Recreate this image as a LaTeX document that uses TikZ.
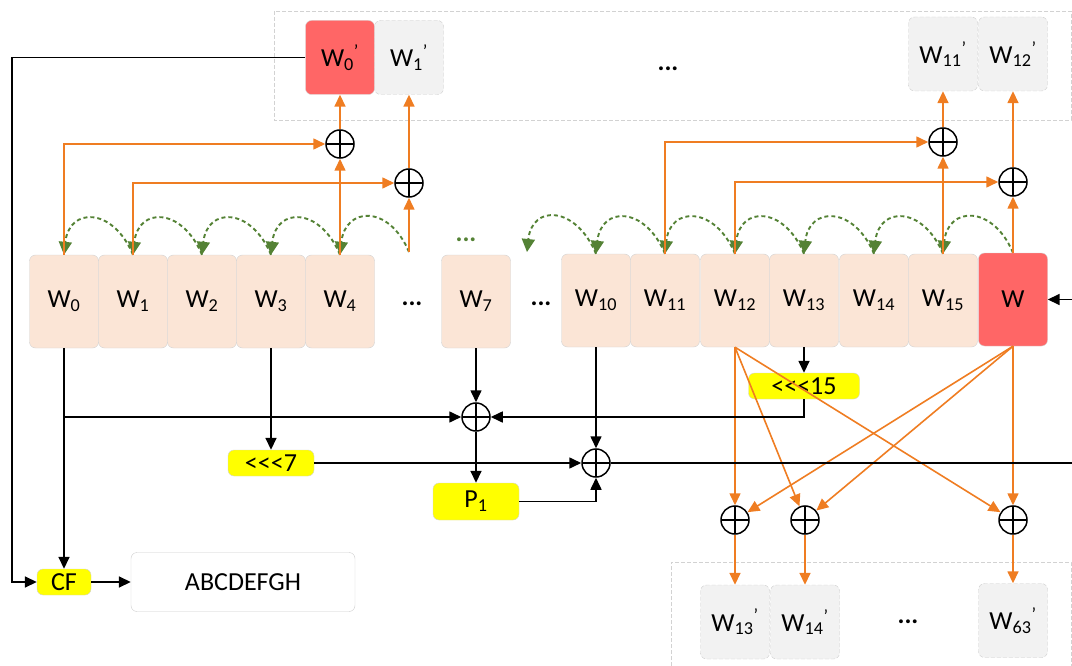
\documentclass[tikz,border=0pt]{standalone}
\usepackage{fontspec}
\setmainfont{Carlito}
\usetikzlibrary{arrows.meta}
\definecolor{regfill}{HTML}{FBE5D6}
\definecolor{hotred}{HTML}{FF6666}
\definecolor{outgray}{HTML}{F2F2F2}
\definecolor{xorange}{HTML}{EF7D22}
\definecolor{shiftgreen}{HTML}{548235}
\definecolor{opyellow}{HTML}{FFFF00}
\newcommand{\rotl}{\mbox{<}\mbox{<}\mbox{<}}
\begin{document}
\begin{tikzpicture}[x=1pt, y=-1pt, font=\fontsize{26}{30}\selectfont,
    reg/.style={draw=gray!35, fill=regfill, rounded corners=6pt, minimum width=69pt, minimum height=93pt, inner sep=0pt},
    regout/.style={draw=gray!40, dash pattern=on 4pt off 2pt, fill=outgray, rounded corners=6pt, minimum width=69pt, minimum height=74pt, inner sep=0pt},
    shiftbox/.style={draw=gray!35, fill=opyellow, rounded corners=6pt, minimum height=26pt, inner sep=0pt},
    xorop/.style={circle, draw, line width=1.5pt, minimum size=28pt, inner sep=0pt,
        path picture={\draw[line width=1.3pt] (path picture bounding box.north) -- (path picture bounding box.south)
            (path picture bounding box.west) -- (path picture bounding box.east);}},
    blk/.style={line width=1.6pt, -{Triangle[length=12pt,width=11pt]}},
    org/.style={xorange, line width=1.6pt, -{Triangle[length=12pt,width=11pt]}},
    shft/.style={shiftgreen, line width=1.9pt, dash pattern=on 4pt off 3pt, -{Triangle[length=13pt,width=13pt]}}]
    \useasboundingbox (0,0) rectangle (1072,666);

    % Output groups
    \draw[gray!35, dash pattern=on 4pt off 2pt] (274,11) rectangle (1071,120);
    \draw[gray!35, dash pattern=on 4pt off 2pt] (671,666) -- (671,562) -- (1071,562) -- (1071,666);
    \node[regout, fill=hotred, draw=gray!35, solid] (wo0) at (340,57.5) {W\textsubscript{0}\textsuperscript{’}};
    \node[regout] (wo1) at (409,57.5) {W\textsubscript{1}\textsuperscript{’}};
    \node (dotsT) at (668,69) {\textbf{...}};
    \node[regout] (wo11) at (943,54) {W\textsubscript{11}\textsuperscript{’}};
    \node[regout] (wo12) at (1013,54) {W\textsubscript{12}\textsuperscript{’}};
    \node[regout] (wo13) at (735,622) {W\textsubscript{13}\textsuperscript{’}};
    \node[regout] (wo14) at (805,622) {W\textsubscript{14}\textsuperscript{’}};
    \node (dotsB) at (908,622) {\textbf{...}};
    \node[regout] (wo63) at (1013,620.5) {W\textsubscript{63}\textsuperscript{’}};

    % Register row
    \foreach \n/\x in {0/64,1/133,2/202,3/271,4/340}
        \node[reg] (w\n) at (\x,301.5) {W\textsubscript{\n}};
    \node (dotsL) at (412,304) {\textbf{...}};
    \node[reg] (w7) at (476,301.5) {W\textsubscript{7}};
    \node (dotsM) at (541,304) {\textbf{...}};
    \foreach \n/\x in {10/596,11/665,12/735,13/804,14/874,15/943}
        \node[reg] (w\n) at (\x,300.5) {W\textsubscript{\n}};
    \node[reg, fill=hotred] (wn) at (1013,299.5) {W};
    \node[text=shiftgreen] (gdots) at (466,240) {\textbf{...}};
    \coordinate (w5stub) at (409,252);
    \coordinate (w9stub) at (527,252);
    \coordinate (inR) at (1072,299.5);
    \coordinate (outR) at (1072,463);

    % XOR nodes
    \node[xorop] (xa) at (340,144) {};
    \node[xorop] (xb) at (409,183) {};
    \node[xorop] (xg) at (943,142) {};
    \node[xorop] (xi) at (1013,182) {};
    \node[xorop] (xc) at (476,417) {};
    \node[xorop] (xd) at (596,463) {};
    \node[xorop] (xe) at (735,520) {};
    \node[xorop] (xf) at (805,520) {};
    \node[xorop] (xh) at (1013,520) {};

    % Rotations and compression
    \node[shiftbox, minimum width=111pt] (rot15) at (804,386) {\rotl15};
    \node[shiftbox, minimum width=86pt] (rot7) at (271,463) {\rotl7};
    \node[shiftbox, minimum width=86pt, minimum height=37pt] (p1) at (476,501.5) {P\textsubscript{1}};
    \node[shiftbox, minimum width=54pt] (cf) at (64,582) {CF};
    \node[draw=gray!40, rounded corners=6pt, minimum width=224pt, minimum height=59pt] (res) at (243,582) {ABCDEFGH};

    % Shift of the register
    \foreach \a/\b in {w1/w0,w2/w1,w3/w2,w4/w3,w5stub/w4,w10/w9stub,w11/w10,w12/w11,w13/w12,w14/w13,w15/w14,wn/w15}
        \draw[shft] (\a.north) .. controls +(-20,-48) and +(5,-48) .. (\b.north);

    % Orange XOR paths
    \draw[org] (w0.north) |- (xa.west);
    \draw[org] (w4.north) -- (xa.south);
    \draw[org] (xa.north) -- (wo0.south);
    \draw[org] (w1.north) |- (xb.west);
    \draw[org] (w5stub) -- (xb.south);
    \draw[org] (xb.north) -- (wo1.south);
    \draw[org] (w11.north) |- (xg.west);
    \draw[org] (w15.north) -- (xg.south);
    \draw[org] (xg.north) -- (wo11.south);
    \draw[org] (w12.north) |- (xi.west);
    \draw[org] (wn.north) -- (xi.south);
    \draw[org] (xi.north) -- (wo12.south);
    \draw[org] (w12.south) -- (xe);
    \draw[org] (w12.south) -- (xf);
    \draw[org] (w12.south) -- (xh);
    \draw[org] (wn.south) -- (xe);
    \draw[org] (wn.south) -- (xf);
    \draw[org] (wn.south) -- (xh);
    \draw[org] (xe.south) -- (wo13.north);
    \draw[org] (xf.south) -- (wo14.north);
    \draw[org] (xh.south) -- (wo63.north);

    % Black data paths
    \draw[blk] (wo0.west) -| (12,582) -- (cf.west);
    \draw[blk] (w0.south) -- (cf.north);
    \draw[blk] (w0.south |- xc.west) -- (xc.west);
    \draw[blk] (w7.south) -- (xc.north);
    \draw[blk] (w13.south) -- (rot15.north);
    \draw[blk] (rot15.south) |- (xc.east);
    \draw[blk] (w3.south) -- (rot7.north);
    \draw[blk] (rot7.east) -- (xd.west);
    \draw[blk] (w10.south) -- (xd.north);
    \draw[blk] (xc.south) -- (p1.north);
    \draw[blk] (p1.east) -| (xd.south);
    \draw[line width=1.6pt] (xd.east) -- (outR);
    \draw[blk] (inR) -- (wn.east);
    \draw[blk] (cf.east) -- (res.west);
\end{tikzpicture}
\end{document}
